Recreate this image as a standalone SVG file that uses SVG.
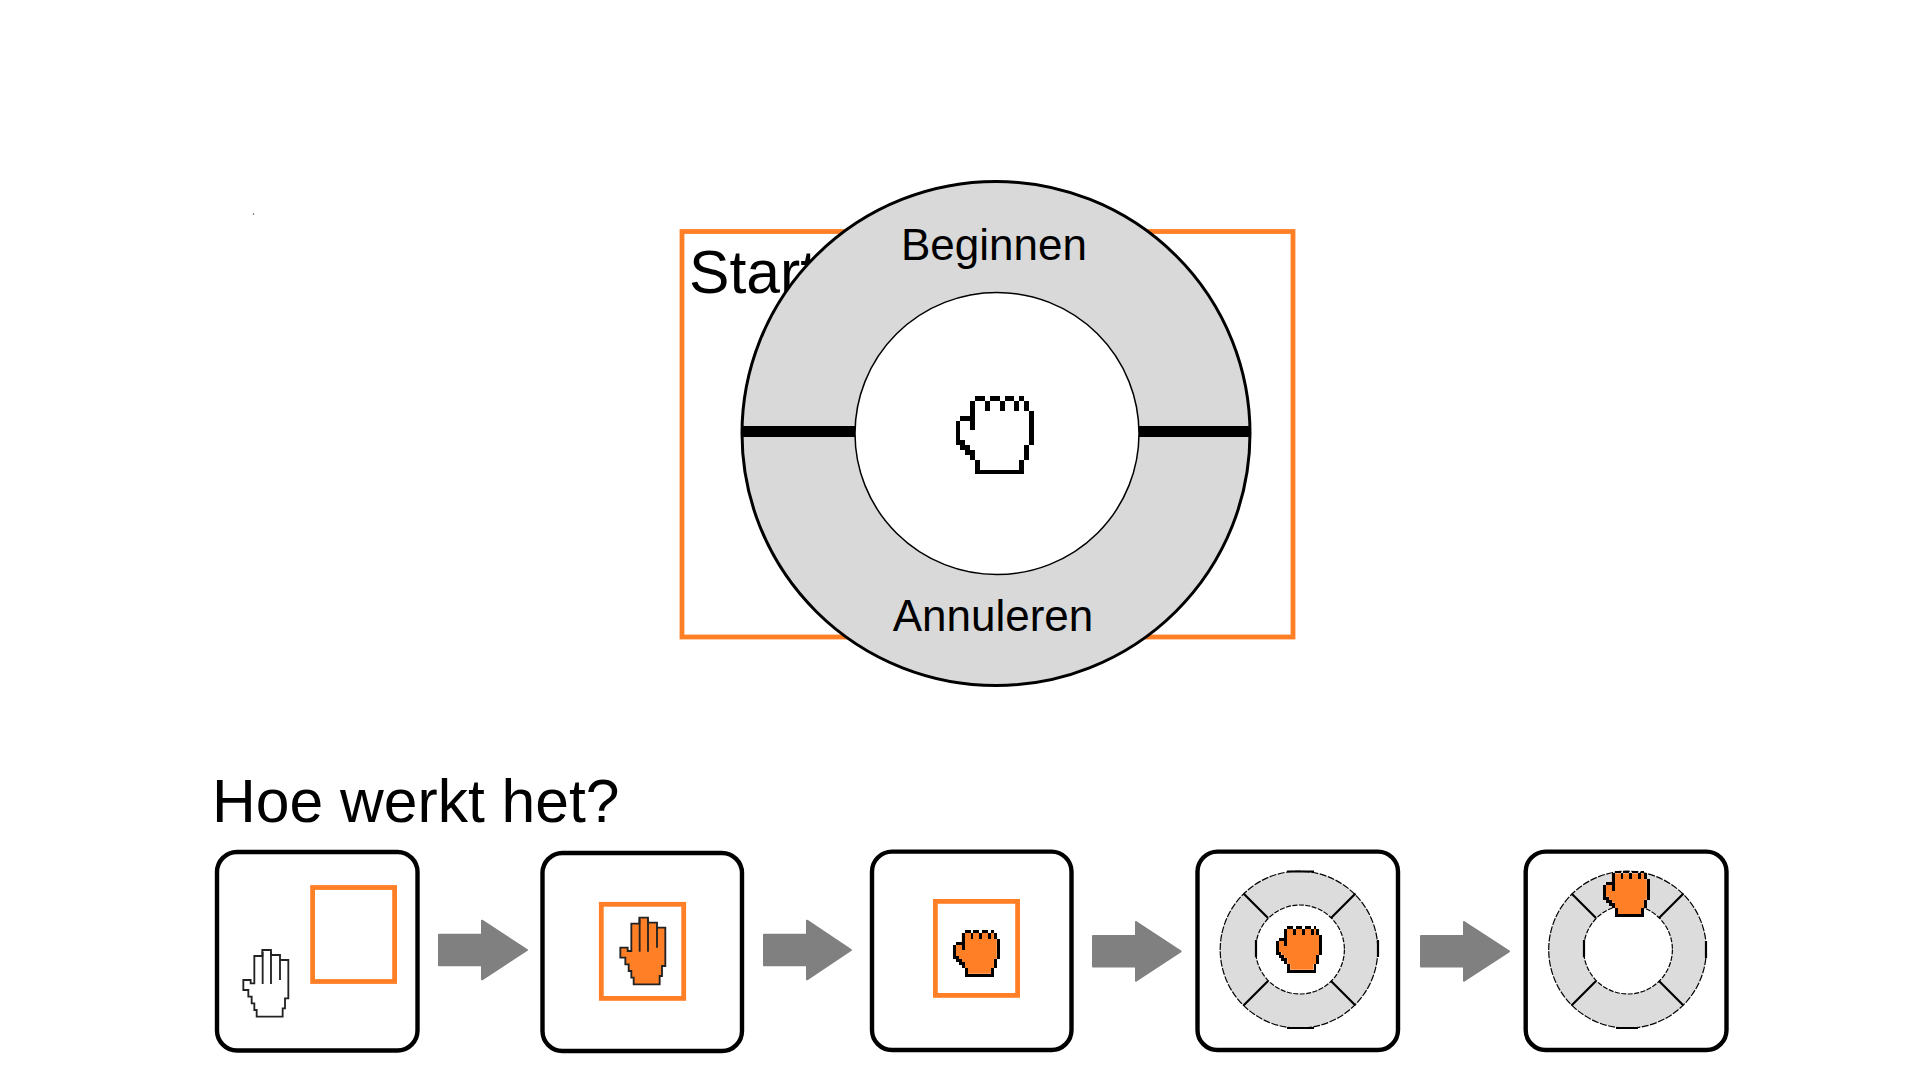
<svg xmlns="http://www.w3.org/2000/svg" width="1920" height="1080" viewBox="0 0 1920 1080">
<style>
text{font-family:"Liberation Sans",Arial,sans-serif;fill:#000}
.label{font-size:44px;text-anchor:middle}
.title{font-size:60.6px}
.target{fill:none;stroke:#ff7f27;stroke-width:4.8}
.box{fill:#fff;stroke:#000;stroke-width:4.4}
.ring{fill:#dcdcdc;stroke:#000;stroke-width:1.2;stroke-dasharray:7 1.5}
.hole{fill:#fff;stroke:#000;stroke-width:1.2;stroke-dasharray:5 1.5}
.div{stroke:#000;stroke-width:2.2;fill:none}
.arrow{fill:#808080;stroke:#808080;stroke-width:2;stroke-linejoin:round}
.orange{fill:#ff7f27}
.white{fill:#fff}
</style>
<defs>
<g id="fist">
<path d="M4 1H14V3H15V10H14V13H13V15H5V13H4V11H3V10H2V9H1V5H3V1z"/>
<path fill="#000" shape-rendering="crispEdges" d="M4 0h2v1h-2zM7 0h2v1h-2zM10 0h2v1h-2zM13 0h1v1h-1zM3 1h1v6h-1zM6 1h1v2h-1zM9 1h1v2h-1zM12 1h1v2h-1zM14 1h1v2h-1zM15 3h1v7h-1zM14 10h1v3h-1zM13 13h1v2h-1zM4 15h10v1h-10zM4 13h1v2h-1zM3 11h1v2h-1zM2 10h1v2h-1zM1 9h1v2h-1zM0 5h1v5h-1zM1 4h3v1h-3z"/>
</g>
<g id="hand">
<path d="M40 120H62V130H73V48H97V30H123V45H150V60H175V175H165V205H158V230H80V210H73V190H65V170H55V150H40z" stroke="#222" stroke-width="5.5" stroke-linejoin="miter"/>
<path d="M98 35V132M123 35V132M150 60V120" fill="none" stroke="#222" stroke-width="5.5"/>
</g>
</defs>
<circle cx="253.5" cy="214" r="0.8" fill="#555"/>
<g id="start-target">
<rect class="target" x="682" y="231.5" width="611" height="405.5"/>
<text x="689" y="293" class="title">Start</text>
</g>
<g id="radial-menu">
<ellipse cx="996" cy="433.5" rx="254" ry="252" fill="#d9d9d9" stroke="#000" stroke-width="3"/>
<ellipse cx="997" cy="433.5" rx="142" ry="141" fill="#fff" stroke="#000" stroke-width="1.5"/>
<path d="M742 431.500H855M1139 431.500H1250" stroke="#000" stroke-width="11" fill="none"/>
<text x="994" y="260" class="label">Beginnen</text>
<text x="993" y="631" class="label">Annuleren</text>
<use href="#fist" class="white" transform="translate(955.600 396) scale(4.9)"/>
</g>
<text id="how-title" x="212" y="822" class="title">Hoe werkt het?</text>
<g id="connectors">
<path class="arrow" d="M439 934.700H482V920.700L527 950L482 979.300V965.300H439z"/>
<path class="arrow" d="M764 934.700H807V920.700L851 950L807 979.300V965.300H764z"/>
<path class="arrow" d="M1093 936H1136V922L1180.600 951.300L1136 980.600V966.600H1093z"/>
<path class="arrow" d="M1421 936H1464V922L1509 951.300L1464 980.600V966.600H1421z"/>
</g>
<g id="step-1">
<rect class="box" x="217" y="852" width="200.500" height="198.500" rx="20"/>
<rect class="target" x="312.600" y="887.500" width="82" height="94"/>
<use href="#hand" class="white" transform="translate(230 940) scale(.3333)"/>
</g>
<g id="step-2">
<rect class="box" x="542.500" y="853" width="199.500" height="198" rx="20"/>
<rect class="target" x="601.300" y="904.300" width="82.400" height="94.100"/>
<use href="#hand" class="orange" transform="translate(607 907.700) scale(.3333)"/>
</g>
<g id="step-3">
<rect class="box" x="872" y="851.600" width="199.500" height="198.400" rx="20"/>
<rect class="target" x="935.400" y="901.400" width="82.200" height="94"/>
<use href="#fist" class="orange" transform="translate(953 930) scale(2.92)"/>
</g>
<g id="step-4">
<rect class="box" x="1197.500" y="851.600" width="200.500" height="198.400" rx="20"/>
<ellipse class="ring" cx="1299" cy="949.700" rx="78.800" ry="78.500"/>
<ellipse class="hole" cx="1300" cy="949.500" rx="44.400" ry="44.500"/>
<path class="div" d="M1243.500 893.500L1268 918M1355.500 893.500L1331 918M1243.500 1005.500L1268 981M1355.500 1005.500L1331 981M1287 871.500H1314M1287 1028H1314M1256 940V957M1378 940V957"/>
<use href="#fist" class="orange" transform="translate(1275.600 926) scale(2.92)"/>
</g>
<g id="step-5">
<rect class="box" x="1525.700" y="851.600" width="200.800" height="198.400" rx="20"/>
<ellipse class="ring" cx="1627.500" cy="949.700" rx="78.800" ry="78.500"/>
<ellipse class="hole" cx="1628" cy="949.500" rx="44.400" ry="44.500"/>
<path class="div" d="M1571.500 893.500L1596 918M1683.500 893.500L1659 918M1571.500 1005.500L1596 981M1683.500 1005.500L1659 981M1616 1028H1638M1706 941V958M1584 940V957"/>
<use href="#fist" class="orange" transform="translate(1603 870.500) scale(2.92)"/>
</g>
</svg>
